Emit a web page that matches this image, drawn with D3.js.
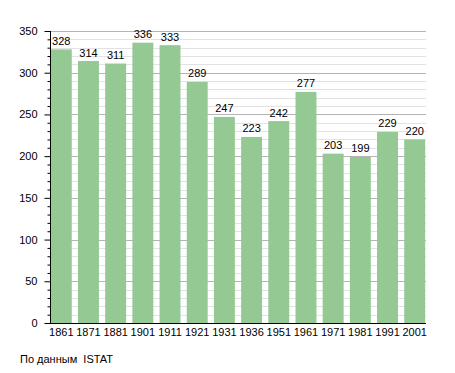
<!DOCTYPE html>
<html>
<head>
<meta charset="utf-8">
<script src="https://cdn.jsdelivr.net/npm/d3@7"></script>
<style>
  body { margin: 0; background: #fff; }
  text { font-family: "Liberation Sans", Arial, sans-serif; }
</style>
</head>
<body>
<div id="chart"></div>
<script>
const years = ["1861", "1871", "1881", "1901", "1911", "1921", "1931", "1936", "1951", "1961", "1971", "1981", "1991", "2001"];
const population = [328, 314, 311, 336, 333, 289, 247, 223, 242, 277, 203, 199, 229, 220];
const majorTicks = [0, 50, 100, 150, 200, 250, 300, 350];
const sourceNote = "По данным  ISTAT";

const W = 455, H = 373;
const x0 = 50, x1 = 426, yTop = 31, yBottom = 323;

const svg = d3.select("#chart").append("svg")
  .attr("width", W)
  .attr("height", H);

const x = d3.scaleBand()
  .domain(years)
  .range([x0, x1])
  .paddingInner(0.23)
  .paddingOuter(0.03);

const y = d3.scaleLinear()
  .domain([0, 350])
  .range([yBottom, yTop]);

const minorTicks = d3.range(0, 351, 10).filter(v => v % 50 !== 0);

// grid
svg.append("g").selectAll("line")
  .data(minorTicks)
  .join("line")
  .attr("x1", x0).attr("x2", x1)
  .attr("y1", d => Math.round(y(d)) + 0.5)
  .attr("y2", d => Math.round(y(d)) + 0.5)
  .attr("stroke", "#e2e2e2");

svg.append("g").selectAll("line")
  .data(majorTicks.filter(d => d > 0))
  .join("line")
  .attr("x1", x0).attr("x2", x1)
  .attr("y1", d => Math.round(y(d)) + 0.5)
  .attr("y2", d => Math.round(y(d)) + 0.5)
  .attr("stroke", "#b4b4b4");

// bars
svg.append("g").selectAll("rect")
  .data(population)
  .join("rect")
  .attr("x", (d, i) => x(years[i]))
  .attr("y", d => y(d))
  .attr("width", x.bandwidth())
  .attr("height", d => y(0) - y(d))
  .attr("fill", "#94c994");

// value labels
svg.append("g").selectAll("text")
  .data(population)
  .join("text")
  .attr("x", (d, i) => x(years[i]) + x.bandwidth() / 2)
  .attr("y", d => y(d) - 4.5)
  .attr("text-anchor", "middle")
  .attr("font-size", "11px")
  .attr("fill", "#000")
  .text(d => d);

// y axis
const yAxis = svg.append("g")
  .attr("transform", `translate(${x0 + 0.5},0)`)
  .call(d3.axisLeft(y).tickValues(majorTicks).tickSize(6).tickPadding(7))
  .call(g => g.select(".domain").attr("d", `M0,${yTop}V${yBottom}`));
yAxis.selectAll("text").attr("font-size", "11px").attr("font-family", "Liberation Sans, Arial, sans-serif");

svg.append("g")
  .attr("transform", `translate(${x0 + 0.5},0)`)
  .call(d3.axisLeft(y).tickValues(minorTicks).tickSize(3).tickFormat(""))
  .call(g => g.select(".domain").remove());

// x axis
const xAxis = svg.append("g")
  .attr("transform", `translate(0,${yBottom + 0.5})`)
  .call(d3.axisBottom(x).tickSize(0).tickPadding(5))
  .call(g => g.select(".domain").attr("d", `M${x0},0H${x1}`));
xAxis.selectAll("text").attr("font-size", "11px").attr("font-family", "Liberation Sans, Arial, sans-serif");

// source note
svg.append("text")
  .attr("x", 20)
  .attr("y", 363)
  .attr("font-size", "11px")
  .attr("fill", "#000")
  .style("white-space", "pre")
  .text(sourceNote);
</script>
</body>
</html>
